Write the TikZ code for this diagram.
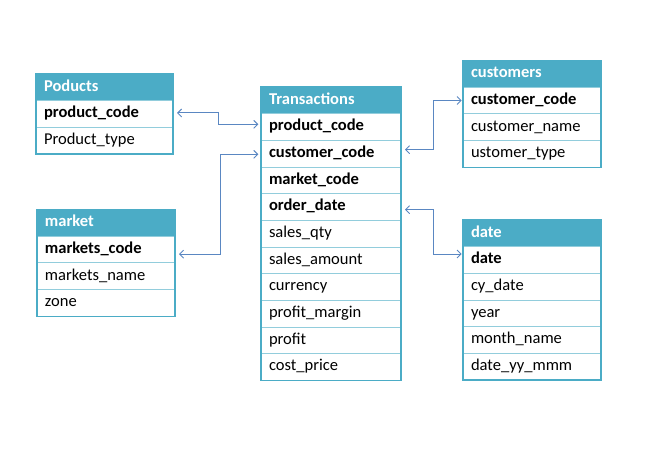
\documentclass[tikz,border=0pt]{standalone}
\usepackage{fontspec}
\setmainfont{Carlito}
\usetikzlibrary{arrows.meta}
\definecolor{hdrc}{HTML}{4BACC6}
\definecolor{rowc}{HTML}{92CDDC}
\definecolor{outc}{HTML}{4BACC6}
\definecolor{conc}{HTML}{5A87C2}
\tikzset{
  cell/.style={draw=rowc, line width=0.7pt, rectangle, anchor=north west,
    inner xsep=6pt, inner ysep=0pt, outer sep=0pt, minimum height=20pt, text width=#1,
    text height=9pt, text depth=3pt,
    font=\fontsize{12.4}{14}\selectfont, text=black},
  hdr/.style={cell=#1, fill=hdrc, text=white, font=\fontsize{12.4}{14}\selectfont\bfseries},
  keyc/.style={cell=#1, font=\fontsize{12.4}{14}\selectfont\bfseries},
  outer/.style={draw=outc, line width=0.8pt},
  conn/.style={draw=conc, line width=0.7pt, {Straight Barb[length=3pt,width=6pt]}-{Straight Barb[length=3pt,width=6pt]}}
}
\begin{document}
\begin{tikzpicture}[x=0.75pt,y=-0.75pt]
\useasboundingbox (0,0) rectangle (650,463);
% Poducts
\node[hdr=90.75pt] (p0) at (36,74) {Poducts};
\node[keyc=90.75pt] (p1) at (p0.south west) {product\_code};
\node[cell=90.75pt] (p2) at (p1.south west) {Product\_type};
\draw[outer] (p0.north west) rectangle (p2.south east);
% Transactions
\node[hdr=93pt] (t0) at (261,87) {Transactions};
\node[keyc=93pt] (t1) at (t0.south west) {product\_code};
\node[keyc=93pt] (t2) at (t1.south west) {customer\_code};
\node[keyc=93pt] (t3) at (t2.south west) {market\_code};
\node[keyc=93pt] (t4) at (t3.south west) {order\_date};
\node[cell=93pt] (t5) at (t4.south west) {sales\_qty};
\node[cell=93pt] (t6) at (t5.south west) {sales\_amount};
\node[cell=93pt] (t7) at (t6.south west) {currency};
\node[cell=93pt] (t8) at (t7.south west) {profit\_margin};
\node[cell=93pt] (t9) at (t8.south west) {profit};
\node[cell=93pt] (t10) at (t9.south west) {cost\_price};
\draw[outer] (t0.north west) rectangle (t10.south east);
% customers
\node[hdr=91.5pt] (c0) at (463,60.5) {customers};
\node[keyc=91.5pt] (c1) at (c0.south west) {customer\_code};
\node[cell=91.5pt] (c2) at (c1.south west) {customer\_name};
\node[cell=91.5pt] (c3) at (c2.south west) {ustomer\_type};
\draw[outer] (c0.north west) rectangle (c3.south east);
% market
\node[hdr=91.5pt] (m0) at (37,209.5) {market};
\node[keyc=91.5pt] (m1) at (m0.south west) {markets\_code};
\node[cell=91.5pt] (m2) at (m1.south west) {markets\_name};
\node[cell=91.5pt] (m3) at (m2.south west) {zone};
\draw[outer] (m0.north west) rectangle (m3.south east);
% date
\node[hdr=91.5pt] (d0) at (463,220) {date};
\node[keyc=91.5pt] (d1) at (d0.south west) {date};
\node[cell=91.5pt] (d2) at (d1.south west) {cy\_date};
\node[cell=91.5pt] (d3) at (d2.south west) {year};
\node[cell=91.5pt] (d4) at (d3.south west) {month\_name};
\node[cell=91.5pt] (d5) at (d4.south west) {date\_yy\_mmm};
\draw[outer] (d0.north west) rectangle (d5.south east);
% connectors
\draw[conn] ([xshift=3pt,yshift=0.8pt]p1.east) -- ++(31pt,0) |- ([xshift=-2pt,yshift=2pt]t1.west);
\draw[conn] ([xshift=3pt,yshift=-3.5pt]m1.east) -- ++(31pt,0) |- ([xshift=-2pt,yshift=-0.5pt]t2.west);
\draw[conn] ([xshift=3pt,yshift=3pt]t2.east) -- ++(21.5pt,0) |- ([xshift=-1pt]c1.west);
\draw[conn] ([xshift=3pt,yshift=-2pt]t4.east) -- ++(21.5pt,0) |- ([xshift=-1pt,yshift=4.5pt]d1.west);
\end{tikzpicture}
\end{document}
